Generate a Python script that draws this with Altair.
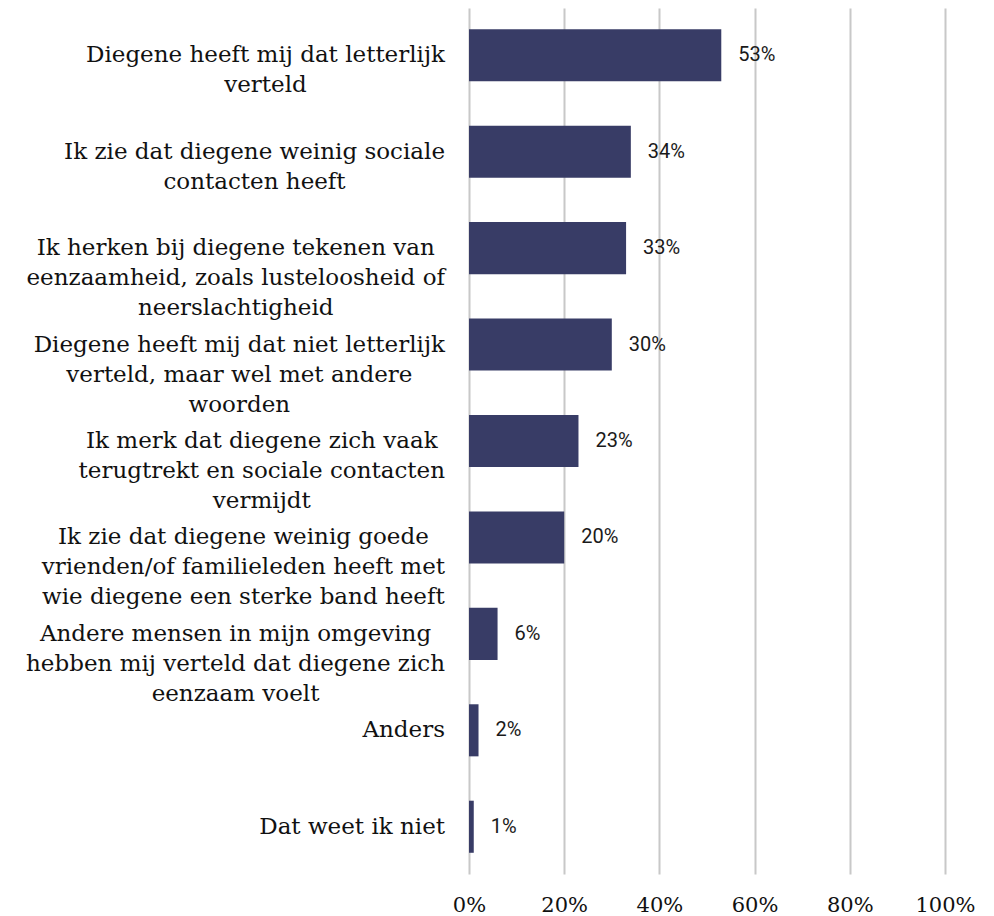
import glob
import struct

import altair as alt
import pandas as pd

categories = [
    "Diegene heeft mij dat letterlijk|verteld",
    "Ik zie dat diegene weinig sociale|contacten heeft",
    "Ik herken bij diegene tekenen van|eenzaamheid, zoals lusteloosheid of|neerslachtigheid",
    "Diegene heeft mij dat niet letterlijk|verteld, maar wel met andere|woorden",
    "Ik merk dat diegene zich vaak|terugtrekt en sociale contacten|vermijdt",
    "Ik zie dat diegene weinig goede|vrienden/of familieleden heeft met|wie diegene een sterke band heeft",
    "Andere mensen in mijn omgeving|hebben mij verteld dat diegene zich|eenzaam voelt",
    "Anders",
    "Dat weet ik niet",
]
values = [53, 34, 33, 30, 23, 20, 6, 2, 1]
x_ticks = [0, 20, 40, 60, 80, 100]

LABEL_FONT = "DejaVu Serif"
LABEL_SIZE = 23
LABEL_GAP = 24


def font_advance_table(pattern):
    """Read per-character advance widths (in em) from a TrueType file."""
    files = glob.glob(pattern, recursive=True)
    if not files:
        return None
    data = open(files[0], "rb").read()
    num_tables = struct.unpack(">H", data[4:6])[0]
    tables = {}
    for i in range(num_tables):
        rec = data[12 + 16 * i: 28 + 16 * i]
        tag = rec[:4].decode("latin-1")
        off, length = struct.unpack(">II", rec[8:16])
        tables[tag] = off
    upem = struct.unpack(">H", data[tables["head"] + 18: tables["head"] + 20])[0]
    n_hm = struct.unpack(">H", data[tables["hhea"] + 34: tables["hhea"] + 36])[0]
    hmtx = tables["hmtx"]
    adv = [struct.unpack(">H", data[hmtx + 4 * i: hmtx + 4 * i + 2])[0] for i in range(n_hm)]
    cmap = tables["cmap"]
    n_sub = struct.unpack(">H", data[cmap + 2: cmap + 4])[0]
    sub = None
    for i in range(n_sub):
        pid, eid, off = struct.unpack(">HHI", data[cmap + 4 + 8 * i: cmap + 12 + 8 * i])
        fmt = struct.unpack(">H", data[cmap + off: cmap + off + 2])[0]
        if pid == 3 and eid == 1 and fmt == 4:
            sub = cmap + off
    if sub is None:
        return None
    seg2 = struct.unpack(">H", data[sub + 6: sub + 8])[0]
    seg = seg2 // 2
    ends = struct.unpack(">%dH" % seg, data[sub + 14: sub + 14 + seg2])
    starts = struct.unpack(">%dH" % seg, data[sub + 16 + seg2: sub + 16 + 2 * seg2])
    deltas = struct.unpack(">%dh" % seg, data[sub + 16 + 2 * seg2: sub + 16 + 3 * seg2])
    ro_base = sub + 16 + 3 * seg2
    ranges = struct.unpack(">%dH" % seg, data[ro_base: ro_base + seg2])
    widths = {}
    for code in range(32, 256):
        gid = 0
        for k in range(seg):
            if starts[k] <= code <= ends[k]:
                if ranges[k] == 0:
                    gid = (code + deltas[k]) & 0xFFFF
                else:
                    p = ro_base + 2 * k + ranges[k] + 2 * (code - starts[k])
                    g = struct.unpack(">H", data[p: p + 2])[0]
                    gid = (g + deltas[k]) & 0xFFFF if g else 0
                break
        widths[chr(code)] = adv[min(gid, n_hm - 1)] / upem
    return widths


try:
    em_widths = font_advance_table("/usr/share/fonts/**/DejaVuSerif.ttf")
except Exception:
    em_widths = None


def text_width(s):
    if em_widths:
        return sum(em_widths.get(c, 0.55) for c in s) * LABEL_SIZE
    return len(s) * 0.505 * LABEL_SIZE


df = pd.DataFrame({"cat": categories, "pct": values})
df["label"] = df["pct"].astype(str) + "%"
df["lx"] = [-LABEL_GAP - max(text_width(t) for t in c.split("|")) / 2 for c in categories]

y = alt.Y(
    "cat:N",
    sort=categories,
    title=None,
    scale=alt.Scale(paddingInner=0.46, paddingOuter=0.22),
    axis=alt.Axis(labels=False, ticks=False, domain=False, grid=False),
)
x = alt.X(
    "pct:Q",
    title=None,
    scale=alt.Scale(domain=[0, 100]),
    axis=alt.Axis(
        values=x_ticks,
        labelExpr="datum.value + '%'",
        labelFont="DejaVu Serif",
        labelFontSize=21,
        labelColor="#111111",
        labelPadding=20,
        labelFlush=False,
        labelBound=False,
        labelOverlap=False,
        ticks=False,
        domain=False,
        grid=True,
        gridColor="#c8c8c8",
        gridWidth=2,
    ),
)

base = alt.Chart(df)
bars = base.mark_bar(color="#383C66").encode(x=x, y=y)
values_text = base.mark_text(
    align="left", baseline="middle", dx=17, font="Roboto", fontSize=20, color="#1a1a1a"
).encode(x="pct:Q", y=alt.Y("cat:N", sort=categories), text="label:N")
cat_text = (
    base.transform_calculate(lines="split(datum.cat, '|')")
    .mark_text(
        align="center",
        baseline="middle",
        font=LABEL_FONT,
        fontSize=LABEL_SIZE,
        lineHeight=30,
        color="#111111",
    )
    .encode(
        x=alt.X("lx:Q", scale=None),
        y=alt.Y("cat:N", sort=categories),
        text="lines:N",
    )
)

chart = (
    (bars + values_text + cat_text)
    .properties(
        width=476,
        height=866,
        autosize=alt.AutoSizeParams(type="none"),
        padding={"left": 461, "top": 0, "right": 40, "bottom": 42},
    )
    .configure_view(stroke=None)
)

chart.save("out.html", embed_options={"renderer": "svg", "actions": False})
